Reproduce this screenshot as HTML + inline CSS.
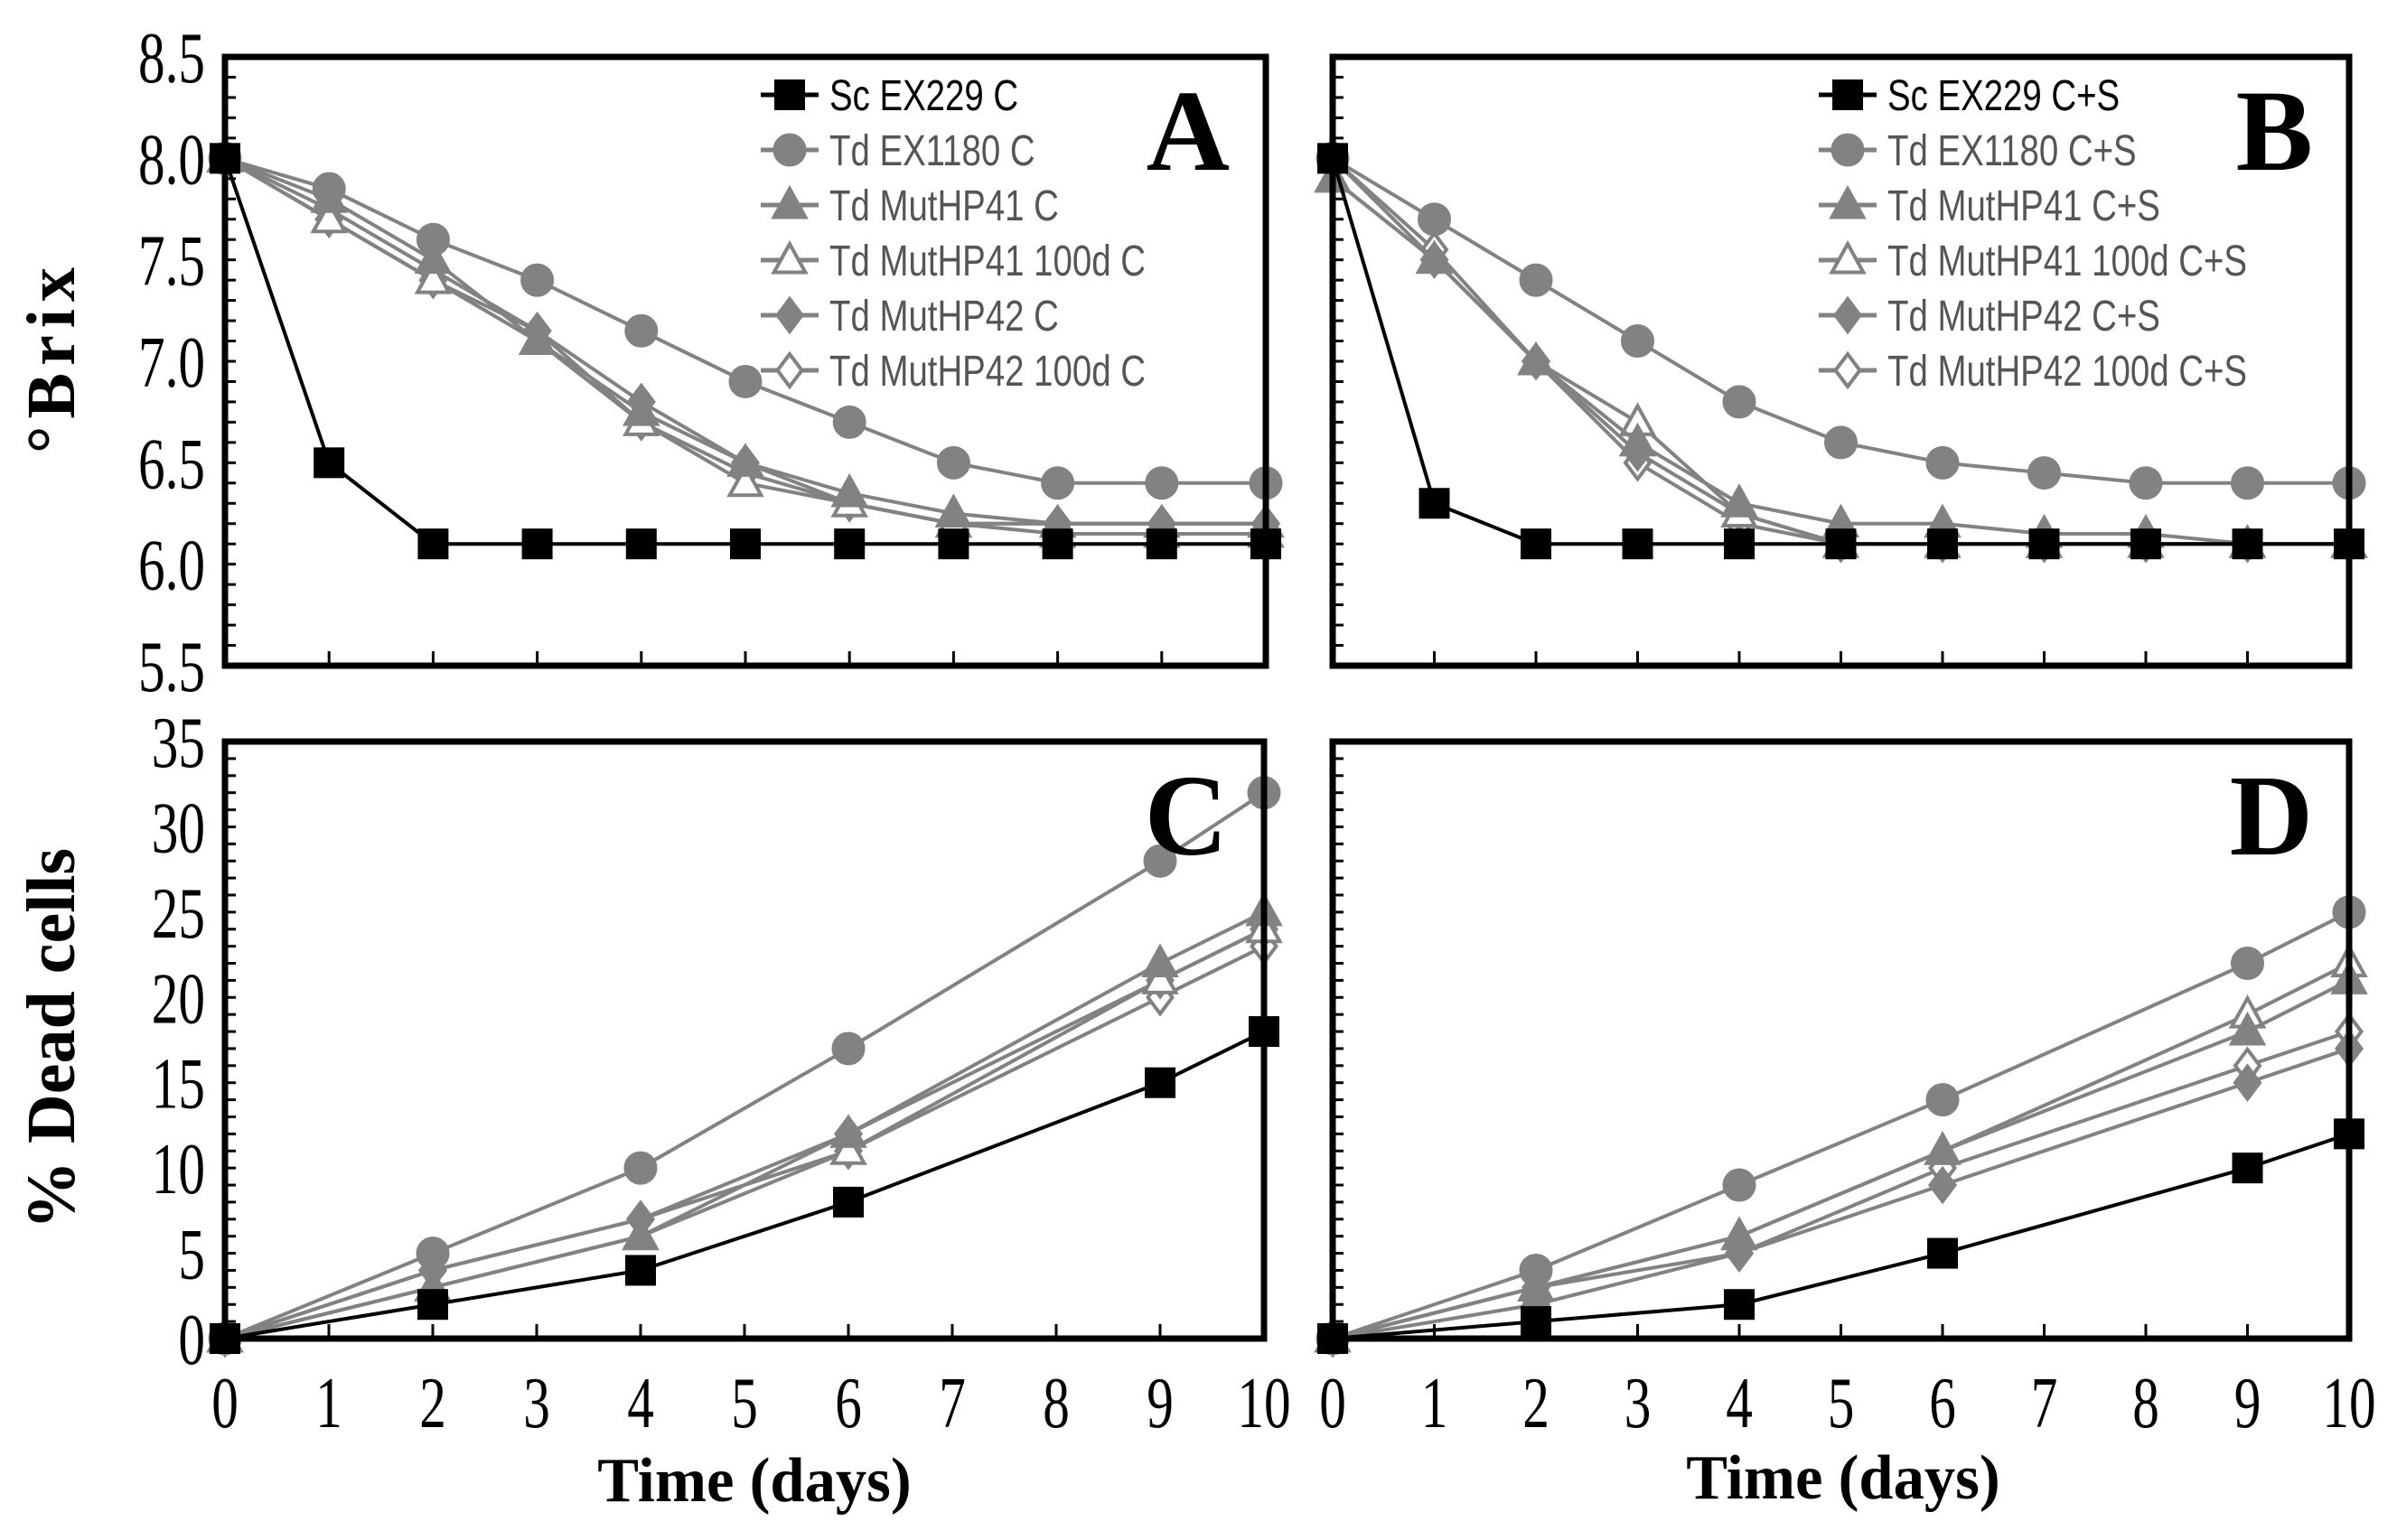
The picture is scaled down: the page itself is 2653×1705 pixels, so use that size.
<!DOCTYPE html>
<html><head><meta charset="utf-8">
<style>
html,body{margin:0;padding:0;background:#fff;}
svg{display:block;}
</style></head>
<body>
<svg id="fig" width="2653" height="1705" xmlns="http://www.w3.org/2000/svg"></svg>
<script>
const daysAB=[0,1,2,3,4,5,6,7,8,9,10];
const daysCD=[0,2,4,6,9,10];
const seriesNames=["Sc EX229","Td EX1180","Td MutHP41","Td MutHP41 100d","Td MutHP42","Td MutHP42 100d"];
const A_sc=[8,6.5,6.1,6.1,6.1,6.1,6.1,6.1,6.1,6.1,6.1];
const A_ex=[8,7.85,7.6,7.4,7.15,6.9,6.7,6.5,6.4,6.4,6.4];
const A_41=[8,7.8,7.5,7.1,6.75,6.5,6.35,6.25,6.2,6.2,6.2];
const A_41d=[8,7.7,7.4,7.1,6.7,6.4,6.3,6.2,6.15,6.15,6.15];
const A_42=[8,7.75,7.45,7.15,6.8,6.5,6.3,6.2,6.2,6.2,6.2];
const A_42d=[8,7.7,7.4,7.15,6.7,6.45,6.3,6.2,6.2,6.2,6.2];
const B_sc=[8,6.3,6.1,6.1,6.1,6.1,6.1,6.1,6.1,6.1,6.1];
const B_ex=[8,7.7,7.4,7.1,6.8,6.6,6.5,6.45,6.4,6.4,6.4];
const B_41=[7.9,7.5,7.0,6.6,6.3,6.2,6.2,6.15,6.15,6.1,6.1];
const B_41d=[7.9,7.5,7.0,6.7,6.25,6.1,6.1,6.1,6.1,6.1,6.1];
const B_42=[8,7.5,7.0,6.55,6.25,6.1,6.1,6.1,6.1,6.1,6.1];
const B_42d=[8,7.55,7.0,6.5,6.2,6.1,6.1,6.1,6.1,6.1,6.1];
const C_sc=[0,2,4,8,15,18];
const C_ex=[0,5,10,17,28,32];
const C_41=[0,3,6,12,22,25];
const C_41d=[0,3,6,11,21,24];
const C_42=[0,4,7,12,21,24];
const C_42d=[0,4,7,11,20,23];
const D_sc=[0,1,2,5,10,12];
const D_ex=[0,4,9,14,22,25];
const D_41=[0,3,6,11,18,21];
const D_41d=[0,3,6,11,19,22];
const D_42=[0,2,5,9,15,17];
const D_42d=[0,3,5,10,16,18];
const brixTicks=["5.5","6.0","6.5","7.0","7.5","8.0","8.5"];
const deadTicks=["0","5","10","15","20","25","30","35"];
const xTicks=["0","1","2","3","4","5","6","7","8","9","10"];

const svg=document.getElementById('fig');
const NS="http://www.w3.org/2000/svg";
function el(tag,attrs,parent){const e=document.createElementNS(NS,tag);for(const k in attrs)e.setAttribute(k,attrs[k]);(parent||svg).appendChild(e);return e;}
function stext(parent,x,y,str,size,anchor,sx,extra){
  const a={x:0,y:0,"text-anchor":anchor,"font-family":"Liberation Serif, serif","font-size":size,transform:`translate(${x},${y}) scale(${sx},1)`};
  for(const k in (extra||{}))a[k]=extra[k];
  const t=el('text',a,parent);t.textContent=str;return t;
}
const GRAY="#828282";
const styles=[{m:"square",fill:"#000",stroke:"#000",line:"#000"},{m:"circle",fill:GRAY,stroke:GRAY,line:GRAY},{m:"tri",fill:GRAY,stroke:GRAY,line:GRAY},{m:"tri",fill:"#fff",stroke:GRAY,line:GRAY},{m:"diamond",fill:GRAY,stroke:GRAY,line:GRAY},{m:"diamond",fill:"#fff",stroke:GRAY,line:GRAY}];
function marker(g,type,x,y,st,s){
  let e;
  if(type==="square")e=el('rect',{x:x-s*0.5,y:y-s*0.5,width:s,height:s},g);
  else if(type==="circle")e=el('circle',{cx:x,cy:y,r:s*0.55},g);
  else if(type==="tri")e=el('polygon',{points:`${x},${y-s*0.6} ${x-s*0.58},${y+s*0.45} ${x+s*0.58},${y+s*0.45}`},g);
  else e=el('polygon',{points:`${x},${y-s*0.6} ${x+s*0.45},${y} ${x},${y+s*0.6} ${x-s*0.45},${y}`},g);
  e.setAttribute('fill',st.fill);e.setAttribute('stroke',st.stroke);e.setAttribute('stroke-width',4);
  return e;
}
function panel(id,L,R,T,B,ymin,ymax,minorStep,days,series,yLabels,yLabelVals,letter,legendX,legendSuffix){
  const g=el('g',{});
  
  
  const xs=v=>L+(v/10)*(R-L);
  const ys=v=>B-(v-ymin)/(ymax-ymin)*(B-T);
  for(let v=ymin;v<=ymax+1e-9;v+=minorStep){el('line',{x1:L,x2:L+12,y1:ys(v),y2:ys(v),stroke:"#000","stroke-width":3},g);}
  for(let i=0;i<=10;i++){el('line',{x1:xs(i),x2:xs(i),y1:B,y2:B-16,stroke:"#000","stroke-width":3},g);}
  for(let s=series.length-1;s>=0;s--){
    const st=styles[s];
    const sg=el('g',{},g);
    
    
    const pts=days.map((d,i)=>xs(d)+","+ys(series[s][i])).join(" ");
    el('polyline',{points:pts,fill:"none",stroke:st.line,"stroke-width":4},sg);
    days.forEach((d,i)=>{const m=marker(sg,st.m,xs(d),ys(series[s][i]),st,30);});
  }
  const fr=el('rect',{x:L,y:T,width:R-L,height:B-T,fill:"none",stroke:"#000","stroke-width":7},g);
  
  if(yLabels){yLabels.forEach((t,i)=>{const tx=stext(g,L-22,ys(yLabelVals[i])+28,t,80,"end",0.74);});}
  const lt=el('text',{x:R-40,y:T+125,"text-anchor":"end","font-family":"Liberation Serif, serif","font-size":128,"font-weight":"bold"},g);
  lt.textContent=letter;
  if(legendX){
    const rows=[105,166,227,288,349,410].map(y=>y+(T-63));
    seriesNames.forEach((n,i)=>{
      const st=styles[i];
      const lg=el('g',{},g);
      
      
      el('line',{x1:legendX,x2:legendX+64,y1:rows[i],y2:rows[i],stroke:st.line,"stroke-width":5},lg);
      marker(lg,st.m,legendX+32,rows[i],st,30);
      const tx=el('text',{x:0,y:0,"font-family":"Liberation Sans, sans-serif","font-size":48,fill:i===0?"#000":"#555",transform:`translate(${legendX+76},${rows[i]+17}) scale(0.8,1)`},lg);
      tx.textContent=n+" "+legendSuffix;
    });
  }
  return {xs};
}
const brixVals=[5.5,6,6.5,7,7.5,8,8.5];
const deadVals=[0,5,10,15,20,25,30,35];
panel('A',249,1401,63,737,5.5,8.5,0.1,daysAB,[A_sc,A_ex,A_41,A_41d,A_42,A_42d],brixTicks,brixVals,'A',842,'C');
panel('B',1475,2600,63,737,5.5,8.5,0.1,daysAB,[B_sc,B_ex,B_41,B_41d,B_42,B_42d],null,null,'B',2013,'C+S');
const pc=panel('C',249,1399,821,1482,0,35,1,daysCD,[C_sc,C_ex,C_41,C_41d,C_42,C_42d],deadTicks,deadVals,'C',null,'');
const pd=panel('D',1475,2600,821,1482,0,35,1,daysCD,[D_sc,D_ex,D_41,D_41d,D_42,D_42d],null,null,'D',null,'');
xTicks.forEach((t,i)=>{
  let a=stext(svg,pc.xs(i),1580,t,80,"middle",0.74);
  
  let b=stext(svg,pd.xs(i),1580,t,80,"middle",0.74);
  
});
let t1=stext(svg,835,1662,"Time (days)",70,"middle",0.98,{"font-weight":"bold"});

let t2=stext(svg,2040,1659,"Time (days)",70,"middle",0.98,{"font-weight":"bold"});

let y1=el('text',{x:0,y:0,"text-anchor":"middle","font-family":"Liberation Serif, serif","font-size":76,"font-weight":"bold","letter-spacing":"8",transform:"translate(82,395) rotate(-90)"});y1.textContent="°Brix";

let y2=el('text',{x:0,y:0,"text-anchor":"middle","font-family":"Liberation Serif, serif","font-size":76,"font-weight":"bold",transform:"translate(82,1150) rotate(-90)"});y2.textContent="% Dead cells";

</script>
</body></html>
